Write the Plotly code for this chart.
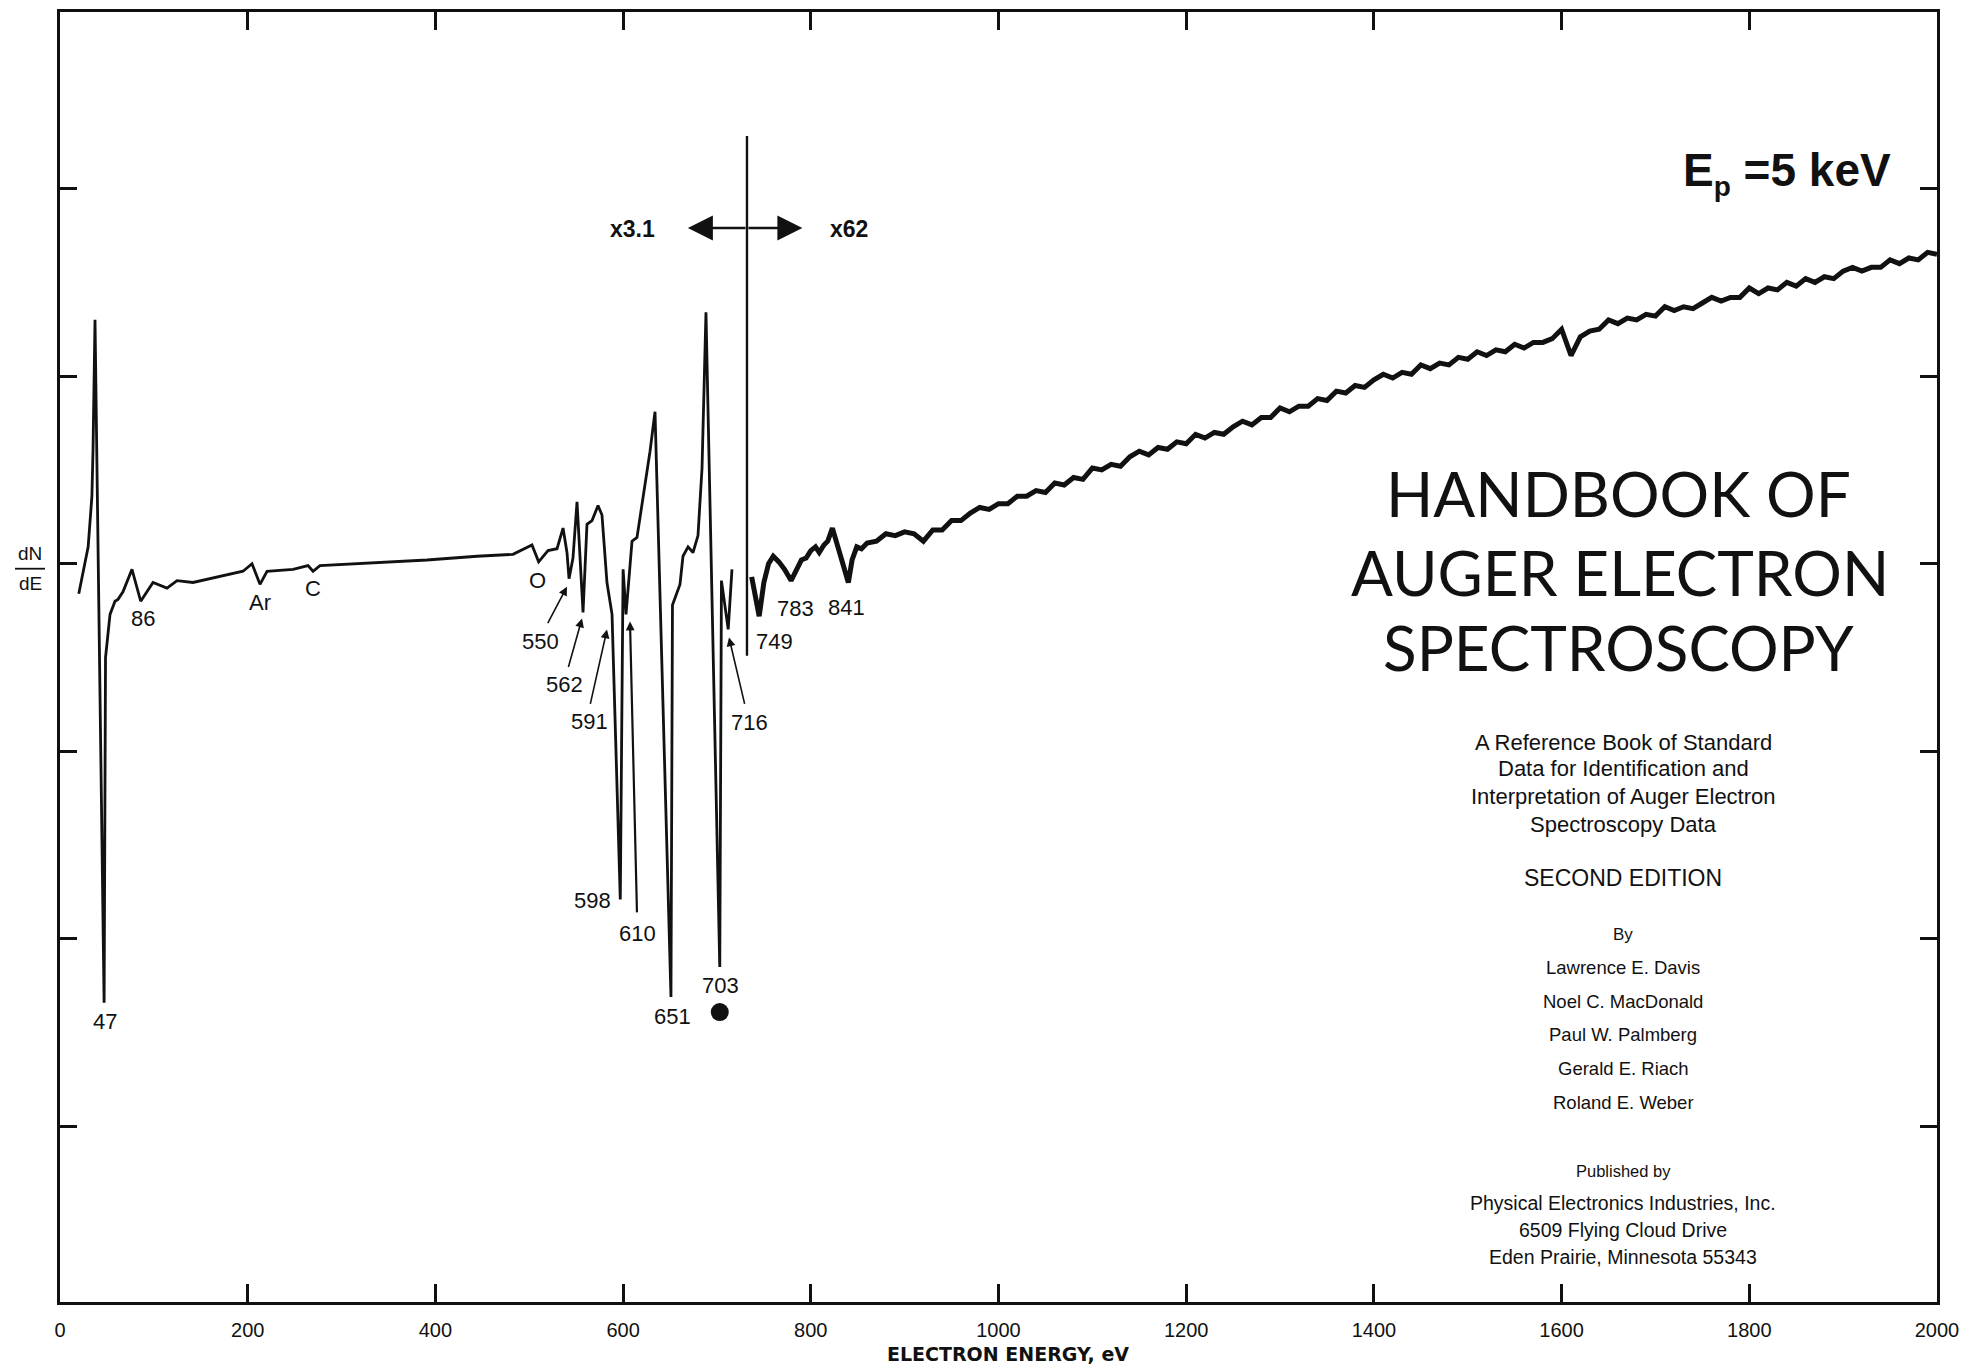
import plotly.graph_objects as go

# ---------------- spectrum data (electron energy in eV, dN/dE in arbitrary units) ----------------
# low-energy part, recorded at gain x3.1
energy_low = [20, 30, 34, 35.2, 37.3, 47, 48.5, 53.3, 58.6, 61.8,
              67.1, 76.7, 86, 99.1, 114, 124.7, 141.7, 177.9, 195, 204.6,
              213.1, 220.6, 248.3, 264.3, 269.6, 277, 319.7, 354.8, 391, 444.3,
              482.7, 502.9, 510, 520, 529.6, 536, 540.2, 542.4, 546.6, 550.9,
              554.1, 557.3, 561.5, 566.9, 573.3, 577.5, 582.8, 588.2, 597, 600,
              603.1, 606.3, 609.5, 614.8, 621.2, 628.7, 634, 651, 652.6, 660.6,
              663.8, 669.2, 674.5, 679.8, 684.1, 688.3, 703, 704.8, 712, 716]
dnde_low = [-0.16, 0.09, 0.36, 0.61, 1.30, -2.34, -0.50, -0.27, -0.20, -0.19,
            -0.15, -0.03, -0.20, -0.10, -0.13, -0.09, -0.10, -0.06, -0.04, 0.00,
            -0.11, -0.04, -0.03, -0.01, -0.04, -0.01, 0.00, 0.01, 0.02, 0.04,
            0.05, 0.10, 0.01, 0.07, 0.08, 0.19, 0.06, -0.08, 0.03, 0.33,
            0.03, -0.26, 0.21, 0.23, 0.31, 0.26, -0.10, -0.27, -1.79, -0.03,
            -0.27, -0.05, 0.12, 0.14, 0.35, 0.60, 0.81, -2.31, -0.22, -0.11,
            0.04, 0.09, 0.06, 0.15, 0.51, 1.34, -2.15, -0.09, -0.35, -0.03]

# high-energy part, recorded at gain x62
energy_high = [737, 745, 750, 755, 760, 766, 772, 779, 785, 790,
               795, 800, 805, 809, 814, 818, 823, 828, 833, 837,
               840, 844, 849, 854] + list(range(860, 2001, 10))
dnde_high = [-0.07, -0.28, -0.10, 0.00, 0.04, 0.01, -0.03, -0.09, -0.03, 0.02,
             0.03, 0.07, 0.09, 0.06, 0.10, 0.12, 0.19, 0.10, 0.01, -0.05,
             -0.10, 0.02, 0.09, 0.08,
             # 860 .. 2000 eV, 10 eV steps
             0.11, 0.12, 0.16, 0.15, 0.17, 0.16, 0.12, 0.18, 0.18, 0.23,
             0.23, 0.27, 0.30, 0.29, 0.32, 0.32, 0.36, 0.36, 0.39, 0.38,
             0.43, 0.42, 0.46, 0.45, 0.51, 0.50, 0.53, 0.52, 0.57, 0.60,
             0.58, 0.62, 0.61, 0.65, 0.64, 0.69, 0.67, 0.70, 0.69, 0.73,
             0.76, 0.74, 0.78, 0.78, 0.83, 0.81, 0.84, 0.84, 0.88, 0.87,
             0.92, 0.91, 0.95, 0.94, 0.98, 1.01, 0.99, 1.02, 1.01, 1.06,
             1.04, 1.07, 1.06, 1.10, 1.09, 1.13, 1.11, 1.14, 1.13, 1.17,
             1.15, 1.18, 1.18, 1.20, 1.25, 1.11, 1.21, 1.24, 1.25, 1.30,
             1.28, 1.31, 1.30, 1.33, 1.32, 1.37, 1.35, 1.37, 1.36, 1.39,
             1.42, 1.40, 1.42, 1.42, 1.47, 1.44, 1.47, 1.46, 1.50, 1.48,
             1.52, 1.50, 1.53, 1.52, 1.56, 1.58, 1.56, 1.58, 1.58, 1.62,
             1.60, 1.63, 1.62, 1.66, 1.65]

# gain change marker
gain_change_energy = 732
gain_change_span = [2.28, -0.49]
gain_arrow_level = 1.79
gain_arrow_ends = [669, 791]

# bullet under the 703 eV transition
bullet_energy = [703]
bullet_level = [-2.39]

x_tickvals = list(range(0, 2001, 200))
x_ticktext = [str(v) for v in x_tickvals]
y_tickvals = [-3, -2, -1, 0, 1, 2]

# ---------------- page geometry ----------------
W, H = 1976, 1366
ML, MR, MT, MB = 60, 39, 9, 64
X_RANGE = [0, 2000]
Y_RANGE = [-3.936, 2.9415]
PW, PH = W - ML - MR, H - MT - MB


def to_data(px, py):
    """page pixel -> axis units"""
    x = X_RANGE[0] + (px - ML) / PW * (X_RANGE[1] - X_RANGE[0])
    y = Y_RANGE[1] - (py - MT) / PH * (Y_RANGE[1] - Y_RANGE[0])
    return x, y


def to_paper(px, py):
    return (px - ML) / PW, 1 - (py - MT) / PH


SANS = "Liberation Sans, Arial, Helvetica, sans-serif"
WIDE = "DejaVu Sans, Verdana, sans-serif"
TITLE_FONT = "Lato, Open Sans, sans-serif"
INK = "#111111"

fig = go.Figure()

fig.add_trace(go.Scatter(x=energy_low, y=dnde_low, mode="lines",
                         line=dict(color=INK, width=2.8), hoverinfo="skip"))
fig.add_trace(go.Scatter(x=[gain_change_energy, gain_change_energy], y=gain_change_span,
                         mode="lines", line=dict(color=INK, width=2.4), hoverinfo="skip"))
fig.add_trace(go.Scatter(x=energy_high, y=dnde_high, mode="lines",
                         line=dict(color=INK, width=5), hoverinfo="skip"))
fig.add_trace(go.Scatter(x=bullet_energy, y=bullet_level, mode="markers",
                         marker=dict(color=INK, size=18), hoverinfo="skip"))

annotations = []

# peak labels
peak_labels = [
    ("47", 105, 1021), ("86", 143, 617), ("Ar", 260, 601), ("C", 313, 587),
    ("O", 537, 579), ("550", 540, 640), ("562", 564, 683), ("591", 589, 720),
    ("598", 592, 900), ("610", 637, 933), ("651", 672, 1016), ("703", 720, 985),
    ("716", 749, 721), ("749", 774, 640), ("783", 795, 607), ("841", 846, 606),
]
for txt, px, py in peak_labels:
    x, y = to_data(px, py)
    annotations.append(dict(x=x, y=y, text=txt, showarrow=False, xanchor="center",
                            yanchor="middle", font=dict(family=SANS, size=22, color=INK)))

# leader arrows (tail -> head, line width)
leaders = [
    ((547, 623), (567, 585), 1.6),
    ((568, 667), (582, 617), 1.6),
    ((590, 704), (607, 628), 1.6),
    ((637, 913), (630, 620), 2.2),
    ((745, 704), (729, 636), 1.6),
]
for (tx, ty), (hx, hy), lw in leaders:
    x, y = to_data(hx, hy)
    ax, ay = to_data(tx, ty)
    annotations.append(dict(x=x, y=y, ax=ax, ay=ay, xref="x", yref="y", axref="x", ayref="y",
                            text="", showarrow=True, arrowhead=2, arrowsize=1.76 / lw,
                            arrowwidth=lw, arrowcolor=INK))

# gain change double arrow
for end in gain_arrow_ends:
    annotations.append(dict(x=end, y=gain_arrow_level, ax=gain_change_energy, ay=gain_arrow_level,
                            xref="x", yref="y", axref="x", ayref="y", text="", showarrow=True,
                            arrowhead=2, arrowsize=2.0, arrowwidth=2.5, arrowcolor=INK))
for txt, px in [("x3.1", 632), ("x62", 849)]:
    x, y = to_data(px, 227)
    annotations.append(dict(x=x, y=y, text=f"<b>{txt}</b>", showarrow=False, xanchor="center",
                            yanchor="middle", font=dict(family=SANS, size=23, color=INK)))


# axis captions and page text
def paper_text(txt, px, py, size, family=SANS, anchor="center"):
    x, y = to_paper(px, py)
    annotations.append(dict(x=x, y=y, xref="paper", yref="paper", text=txt, showarrow=False,
                            xanchor=anchor, yanchor="middle",
                            font=dict(family=family, size=size, color=INK)))


paper_text("<b>ELECTRON ENERGY, eV</b>", 1008, 1354, 19, WIDE)
paper_text("dN", 30, 552, 19)
paper_text("dE", 30, 582, 19)

# beam energy
paper_text("<b>E<sub><span style='font-size:28px'>p</span></sub> =5 keV</b>", 1787, 170, 46)

# title block
paper_text("HANDBOOK OF", 1618, 491, 62, TITLE_FONT)
paper_text("AUGER ELECTRON", 1620, 570, 62, TITLE_FONT)
paper_text("SPECTROSCOPY", 1618, 645, 62, TITLE_FONT)

for txt, py in [("A Reference Book of Standard", 741), ("Data for Identification and", 767),
                ("Interpretation of Auger Electron", 795), ("Spectroscopy Data", 823)]:
    paper_text(txt, 1623, py, 22)
paper_text("SECOND EDITION", 1623, 877, 23)
paper_text("By", 1623, 934, 17)
for txt, py in [("Lawrence E. Davis", 967), ("Noel C. MacDonald", 1001),
                ("Paul W. Palmberg", 1034), ("Gerald E. Riach", 1068),
                ("Roland E. Weber", 1102)]:
    paper_text(txt, 1623, py, 18.5)
paper_text("Published by", 1623, 1171, 16.5)
for txt, py in [("Physical Electronics Industries, Inc.", 1203),
                ("6509 Flying Cloud Drive", 1230),
                ("Eden Prairie, Minnesota 55343", 1257)]:
    paper_text(txt, 1623, py, 19.5)

# fraction bar of dN/dE
bx0, by0 = to_paper(15, 567)
bx1, _ = to_paper(45, 567)
shapes = [dict(type="line", xref="paper", yref="paper", x0=bx0, x1=bx1, y0=by0, y1=by0,
               line=dict(color=INK, width=1.8))]

fig.update_layout(
    width=W, height=H, autosize=False,
    margin=dict(l=ML, r=MR, t=MT, b=MB, pad=0),
    paper_bgcolor="white", plot_bgcolor="white",
    showlegend=False,
    annotations=annotations,
    shapes=shapes,
    xaxis=dict(range=X_RANGE, tickvals=x_tickvals, ticktext=x_ticktext,
               ticks="inside", ticklen=18, tickwidth=2.5, tickcolor=INK,
               showline=True, linewidth=3, linecolor=INK, mirror="ticks",
               showgrid=False, zeroline=False, ticklabelstandoff=8,
               tickfont=dict(family=SANS, size=20, color=INK)),
    yaxis=dict(range=Y_RANGE, tickvals=y_tickvals, showticklabels=False,
               ticks="inside", ticklen=17, tickwidth=2.5, tickcolor=INK,
               showline=True, linewidth=3, linecolor=INK, mirror="ticks",
               showgrid=False, zeroline=False),
)

fig.write_html("out.html")
